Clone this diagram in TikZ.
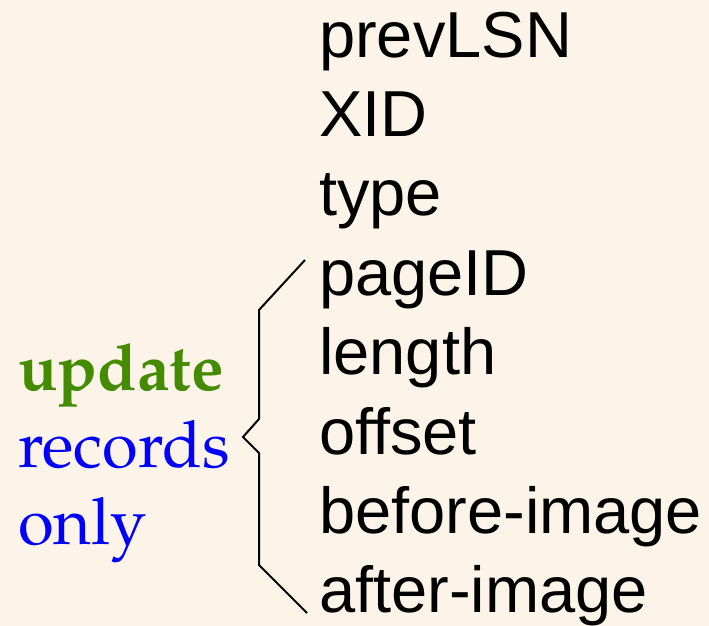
\documentclass[tikz,border=0pt]{standalone}
\usepackage{fontspec}
\setmainfont{Liberation Sans}
\usetikzlibrary{positioning}
\definecolor{paper}{HTML}{FDF4E9}
\definecolor{updgreen}{HTML}{458B00}
\definecolor{recblue}{HTML}{0000FF}
\newcommand\palfont{\fontencoding{OT1}\fontfamily{ppl}\selectfont}

\begin{document}
\begin{tikzpicture}[x=1pt, y=-1pt,
  field/.style={anchor=base west, inner sep=0pt, font=\fontsize{65}{79}\selectfont},
  note/.style={anchor=base west, inner sep=0pt, font=\palfont\fontsize{65}{77}\selectfont}]

% Background
\fill[paper] (0,0) rectangle (709,626);
\useasboundingbox (0,0) rectangle (709,626);

% Log record fields
\node[field] (prevlsn) at (319,57) {prevLSN};
\node[field] (xid)     at (319,136.4) {XID};
\node[field] (type)    at (319,215.8) {type};
\node[field] (pageid)  at (319,295.2) {pageID};
\node[field] (length)  at (319,374.6) {length};
\node[field] (offset)  at (319,454) {offset};
\node[field] (before)  at (319,533.4) {before-image};
\node[field] (after)   at (319,612.8) {after-image};

% Note on the left
\node[note, text=updgreen] (update)  at (18,390) {\bfseries update};
\node[note, text=recblue]  (records) at (18,467) {records};
\node[note, text=recblue]  (only)    at (18,544) {only};

% Brace
\draw[line width=2pt] (305,260) -- (259,310) -- (259,419) -- (243,437)
  -- (259,453) -- (259,565) -- (307,613);

\end{tikzpicture}
\end{document}
